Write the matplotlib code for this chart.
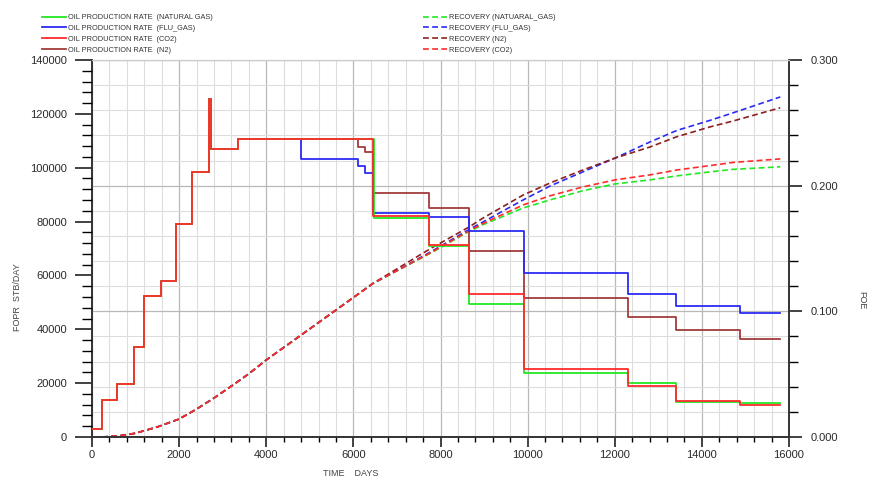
import matplotlib
matplotlib.use("Agg")
import matplotlib.pyplot as plt
from matplotlib.ticker import MultipleLocator

plt.rcParams['font.family'] = ['Liberation Sans', 'DejaVu Sans']

# ---- Field oil production rate (STB/day), stepwise: start day of each period and its rate
co2_days = [0, 230, 570, 960, 1190, 1590, 1930, 2290, 2690, 2730, 3350, 6450, 7740, 8660, 9920, 12310, 13410, 14880, 15800]
co2_rate = [3000, 13600, 19700, 33400, 52400, 58000, 79100, 98400, 125500, 107000, 110500, 82100, 71300, 53100, 25200, 19000, 13400, 11900, 11900]

gas_days = [0, 230, 570, 960, 1190, 1590, 1930, 2290, 2690, 2730, 3350, 6480, 7740, 8660, 9920, 12310, 13410, 14880, 15800]
gas_rate = [3000, 13600, 19700, 33400, 52400, 58000, 79100, 98400, 125500, 107000, 110500, 81300, 71000, 49400, 23800, 20100, 12900, 12600, 12600]

flu_days = [0, 230, 570, 960, 1190, 1590, 1930, 2290, 2690, 2730, 3350, 4800, 6100, 6270, 6450, 7740, 8660, 9920, 12310, 13410, 14880, 15800]
flu_rate = [3000, 13600, 19700, 33400, 52400, 58000, 79100, 98400, 125500, 107000, 110500, 103200, 100600, 98000, 83000, 81800, 76500, 60900, 53100, 48700, 46000, 46000]

n2_days = [0, 230, 570, 960, 1190, 1590, 1930, 2290, 2690, 2730, 3350, 6100, 6270, 6450, 7740, 8660, 9920, 12310, 13410, 14880, 15800]
n2_rate = [3000, 13600, 19700, 33400, 52400, 58000, 79100, 98400, 125500, 107000, 110500, 107700, 105800, 90600, 85000, 69100, 51600, 44600, 39700, 36400, 36400]

# ---- Recovery factor (FOE) sampled over time
rec_days = [230, 600, 1000, 1500, 2000, 2400, 2800, 3200, 3600, 4000, 4800, 5600, 6450,
            7200, 7800, 8650, 8980, 9900, 10520, 11270, 12010, 12810, 13430, 14190, 14720, 15800]
rec_early = [0.0, 0.0008, 0.003, 0.008, 0.0143, 0.0222, 0.031, 0.0405, 0.0503, 0.0613, 0.0811, 0.1010, 0.1222]
rec_gas = rec_early + [0.1358, 0.1468, 0.1635, 0.1690, 0.1823, 0.1887, 0.1960, 0.2014, 0.2046, 0.2078, 0.2110, 0.2130, 0.2150]
rec_flu = rec_early + [0.1362, 0.1478, 0.1650, 0.1712, 0.1887, 0.1998, 0.2110, 0.2220, 0.2348, 0.2440, 0.2520, 0.2580, 0.2706]
rec_n2 = rec_early + [0.1380, 0.1505, 0.1670, 0.1743, 0.1926, 0.2022, 0.2125, 0.2220, 0.2308, 0.2390, 0.2468, 0.2515, 0.2620]
rec_co2 = rec_early + [0.1360, 0.1472, 0.1640, 0.1700, 0.1847, 0.1920, 0.1990, 0.2046, 0.2086, 0.2125, 0.2160, 0.2185, 0.2213]

C_GAS = '#22e822'
C_FLU = '#2b2bf5'
C_CO2 = '#ff2b2b'
C_N2 = '#a23b3b'
C_N2_REC = '#8e1f1f'
AX_COL = '#333333'
GRID_MINOR = '#dddddd'
GRID_MAJOR = '#b8b8b8'

fig = plt.figure(figsize=(8.69, 4.79), dpi=100)
W, H = 869, 479
x0, x1, ytop, ybot = 92, 789, 60, 437
ax_f = fig.add_axes([x0 / W, 1 - ybot / H, (x1 - x0) / W, (ybot - ytop) / H])
ax_r = ax_f.twinx()

# FOE axis (right side) carries the grid
ax_f.yaxis.tick_right()
ax_f.yaxis.set_label_position('right')
ax_r.yaxis.tick_left()
ax_r.yaxis.set_label_position('left')

ax_f.set_xlim(0, 16000)
ax_f.set_ylim(0, 0.3)
ax_r.set_ylim(0, 140000)

ax_f.xaxis.set_major_locator(MultipleLocator(2000))
ax_f.xaxis.set_minor_locator(MultipleLocator(400))
ax_f.yaxis.set_major_locator(MultipleLocator(0.1))
ax_f.yaxis.set_minor_locator(MultipleLocator(0.02))
ax_f.yaxis.set_major_formatter(matplotlib.ticker.FormatStrFormatter('%.3f'))
ax_r.yaxis.set_major_locator(MultipleLocator(20000))
ax_r.yaxis.set_minor_locator(MultipleLocator(4000))

ax_f.grid(which='minor', color=GRID_MINOR, lw=0.8)
ax_f.grid(which='major', color=GRID_MAJOR, lw=0.9)
ax_f.set_axisbelow(True)

for a in (ax_f, ax_r):
    a.tick_params(colors=AX_COL, labelcolor='#2a2a2a', labelsize=8)
ax_f.tick_params(axis='x', which='major', length=7, width=1.3, pad=2)
ax_f.tick_params(axis='x', which='minor', length=3.6, width=1.0)
ax_f.tick_params(axis='y', which='major', length=9.4, width=1.3, pad=6)
ax_f.tick_params(axis='y', which='minor', length=6.5, width=1.0)
ax_r.tick_params(axis='y', which='major', length=12, width=1.3, pad=6)
ax_r.tick_params(axis='y', which='minor', length=7, width=1.0)

for name, sp in ax_f.spines.items():
    sp.set_color(AX_COL if name != 'top' else '#cccccc')
    sp.set_linewidth(1.4 if name != 'top' else 0.9)
for sp in ax_r.spines.values():
    sp.set_visible(False)

xticks = ax_f.xaxis.get_major_ticks()
xticks[0].label1.set_horizontalalignment('left')
xticks[-1].label1.set_horizontalalignment('right')

# Recovery curves (dashed, right scale)
dash = (3.5, 2.0)
lr_gas, = ax_f.plot(rec_days, rec_gas, color=C_GAS, lw=1.2, dashes=dash, label='RECOVERY (NATUARAL_GAS)')
lr_flu, = ax_f.plot(rec_days, rec_flu, color=C_FLU, lw=1.2, dashes=dash, label='RECOVERY (FLU_GAS)')
lr_n2, = ax_f.plot(rec_days, rec_n2, color=C_N2_REC, lw=1.2, dashes=dash, label='RECOVERY (N2)')
lr_co2, = ax_f.plot(rec_days, rec_co2, color=C_CO2, lw=1.2, dashes=dash, label='RECOVERY (CO2)')

# Production rates (solid steps, left scale)
lp_n2, = ax_r.step(n2_days, n2_rate, where='post', color=C_N2, lw=1.3, label='OIL PRODUCTION RATE  (N2)')
lp_flu, = ax_r.step(flu_days, flu_rate, where='post', color=C_FLU, lw=1.3, label='OIL PRODUCTION RATE  (FLU_GAS)')
lp_gas, = ax_r.step(gas_days, gas_rate, where='post', color=C_GAS, lw=1.3, label='OIL PRODUCTION RATE  (NATURAL GAS)')
lp_co2, = ax_r.step(co2_days, co2_rate, where='post', color=C_CO2, lw=1.3, label='OIL PRODUCTION RATE  (CO2)')

leg_kw = dict(loc='upper left', frameon=False, fontsize=5.3, labelspacing=0.5,
              handlelength=3.3, handletextpad=0.2, borderpad=0, borderaxespad=0)
leg1 = fig.legend(handles=[lp_gas, lp_flu, lp_co2, lp_n2], bbox_to_anchor=(42 / W, 1 - 14 / H), **leg_kw)
leg2 = fig.legend(handles=[lr_gas, lr_flu, lr_n2, lr_co2], bbox_to_anchor=(423 / W, 1 - 14 / H), **leg_kw)
for lg in (leg1, leg2):
    for t in lg.get_texts():
        t.set_color('#333333')

fig.text(17 / W, 1 - 297 / H, 'FOPR  STB/DAY', rotation=90, ha='center', va='center', fontsize=6.5, color='#444444')
fig.text(862 / W, 1 - 300 / H, 'FOE', rotation=270, ha='center', va='center', fontsize=6.5, color='#444444')
fig.text(351 / W, 1 - 474 / H, 'TIME    DAYS', ha='center', va='center', fontsize=6.5, color='#444444')

fig.savefig('out.png', dpi=100, facecolor='white')
